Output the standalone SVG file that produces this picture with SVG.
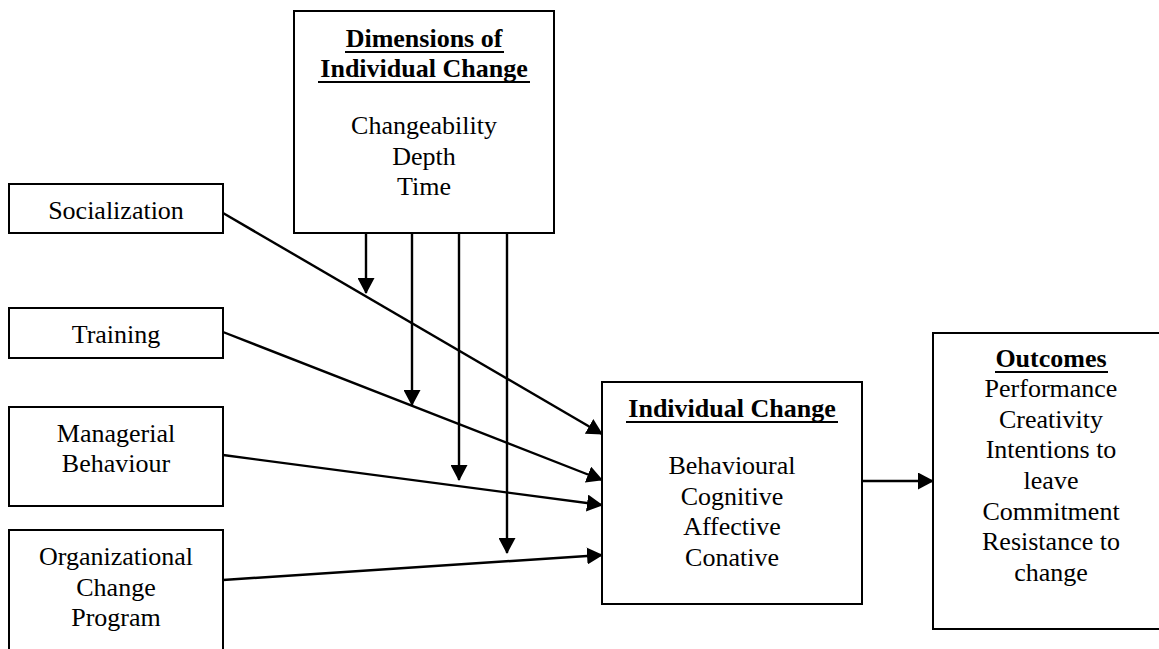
<svg xmlns="http://www.w3.org/2000/svg" width="1159" height="649" viewBox="0 0 1159 649">
  <style>
    .box { fill: #fff; stroke: #000; stroke-width: 2; }
    .t { font-family: "Liberation Serif", "Times New Roman", serif; font-size: 26px; fill: #000; text-anchor: middle; }
    .h { font-weight: bold; }
    .ul { stroke: #000; stroke-width: 2.2; }
    .link { stroke: #000; stroke-width: 2.4; fill: none; marker-end: url(#arrow); }
  </style>
  <defs>
    <marker id="arrow" markerUnits="userSpaceOnUse" markerWidth="16" markerHeight="17" refX="15" refY="8.5" orient="auto">
      <path d="M0,0 L16,8.5 L0,17 z" fill="#000"/>
    </marker>
  </defs>

  <rect width="1159" height="649" fill="#fff"/>

  <!-- moderating dimensions -->
  <g id="dimensions">
    <rect class="box" x="294" y="11" width="260" height="222"/>
    <text class="t h" x="424" y="47">Dimensions of</text>
    <line class="ul" x1="345" y1="52" x2="504" y2="52"/>
    <text class="t h" x="424" y="77">Individual Change</text>
    <line class="ul" x1="318" y1="82" x2="530" y2="82"/>
    <text class="t" x="424" y="134">Changeability</text>
    <text class="t" x="424" y="165">Depth</text>
    <text class="t" x="424" y="195">Time</text>
  </g>

  <!-- antecedents -->
  <g id="socialization">
    <rect class="box" x="9" y="184" width="214" height="49"/>
    <text class="t" x="116" y="219">Socialization</text>
  </g>
  <g id="training">
    <rect class="box" x="9" y="308" width="214" height="50"/>
    <text class="t" x="116" y="343">Training</text>
  </g>
  <g id="managerial">
    <rect class="box" x="9" y="407" width="214" height="99"/>
    <text class="t" x="116" y="442">Managerial</text>
    <text class="t" x="116" y="472">Behaviour</text>
  </g>
  <g id="orgchange">
    <rect class="box" x="9" y="530" width="214" height="140"/>
    <text class="t" x="116" y="565">Organizational</text>
    <text class="t" x="116" y="596">Change</text>
    <text class="t" x="116" y="626">Program</text>
  </g>

  <!-- central construct -->
  <g id="individual-change">
    <rect class="box" x="602" y="382" width="260" height="222"/>
    <text class="t h" x="732" y="417">Individual Change</text>
    <line class="ul" x1="626" y1="422" x2="838" y2="422"/>
    <text class="t" x="732" y="474">Behavioural</text>
    <text class="t" x="732" y="505">Cognitive</text>
    <text class="t" x="732" y="535">Affective</text>
    <text class="t" x="732" y="566">Conative</text>
  </g>

  <!-- results -->
  <g id="outcomes">
    <rect class="box" x="933" y="333" width="240" height="296"/>
    <text class="t h" x="1051" y="367">Outcomes</text>
    <line class="ul" x1="995" y1="372" x2="1108" y2="372"/>
    <text class="t" x="1051" y="397">Performance</text>
    <text class="t" x="1051" y="428">Creativity</text>
    <text class="t" x="1051" y="458">Intentions to</text>
    <text class="t" x="1051" y="489">leave</text>
    <text class="t" x="1051" y="520">Commitment</text>
    <text class="t" x="1051" y="550">Resistance to</text>
    <text class="t" x="1051" y="581">change</text>
  </g>

  <g id="connectors">
    <line class="link" x1="223" y1="213" x2="602" y2="434"/>
    <line class="link" x1="223" y1="332" x2="602" y2="480"/>
    <line class="link" x1="223" y1="455" x2="602" y2="505"/>
    <line class="link" x1="223" y1="580" x2="602" y2="555"/>
    <line class="link" x1="366" y1="233" x2="366" y2="293"/>
    <line class="link" x1="412" y1="233" x2="412" y2="405"/>
    <line class="link" x1="459" y1="233" x2="459" y2="480"/>
    <line class="link" x1="507" y1="233" x2="507" y2="553"/>
    <line class="link" x1="862" y1="481" x2="933" y2="481"/>
  </g>
</svg>
